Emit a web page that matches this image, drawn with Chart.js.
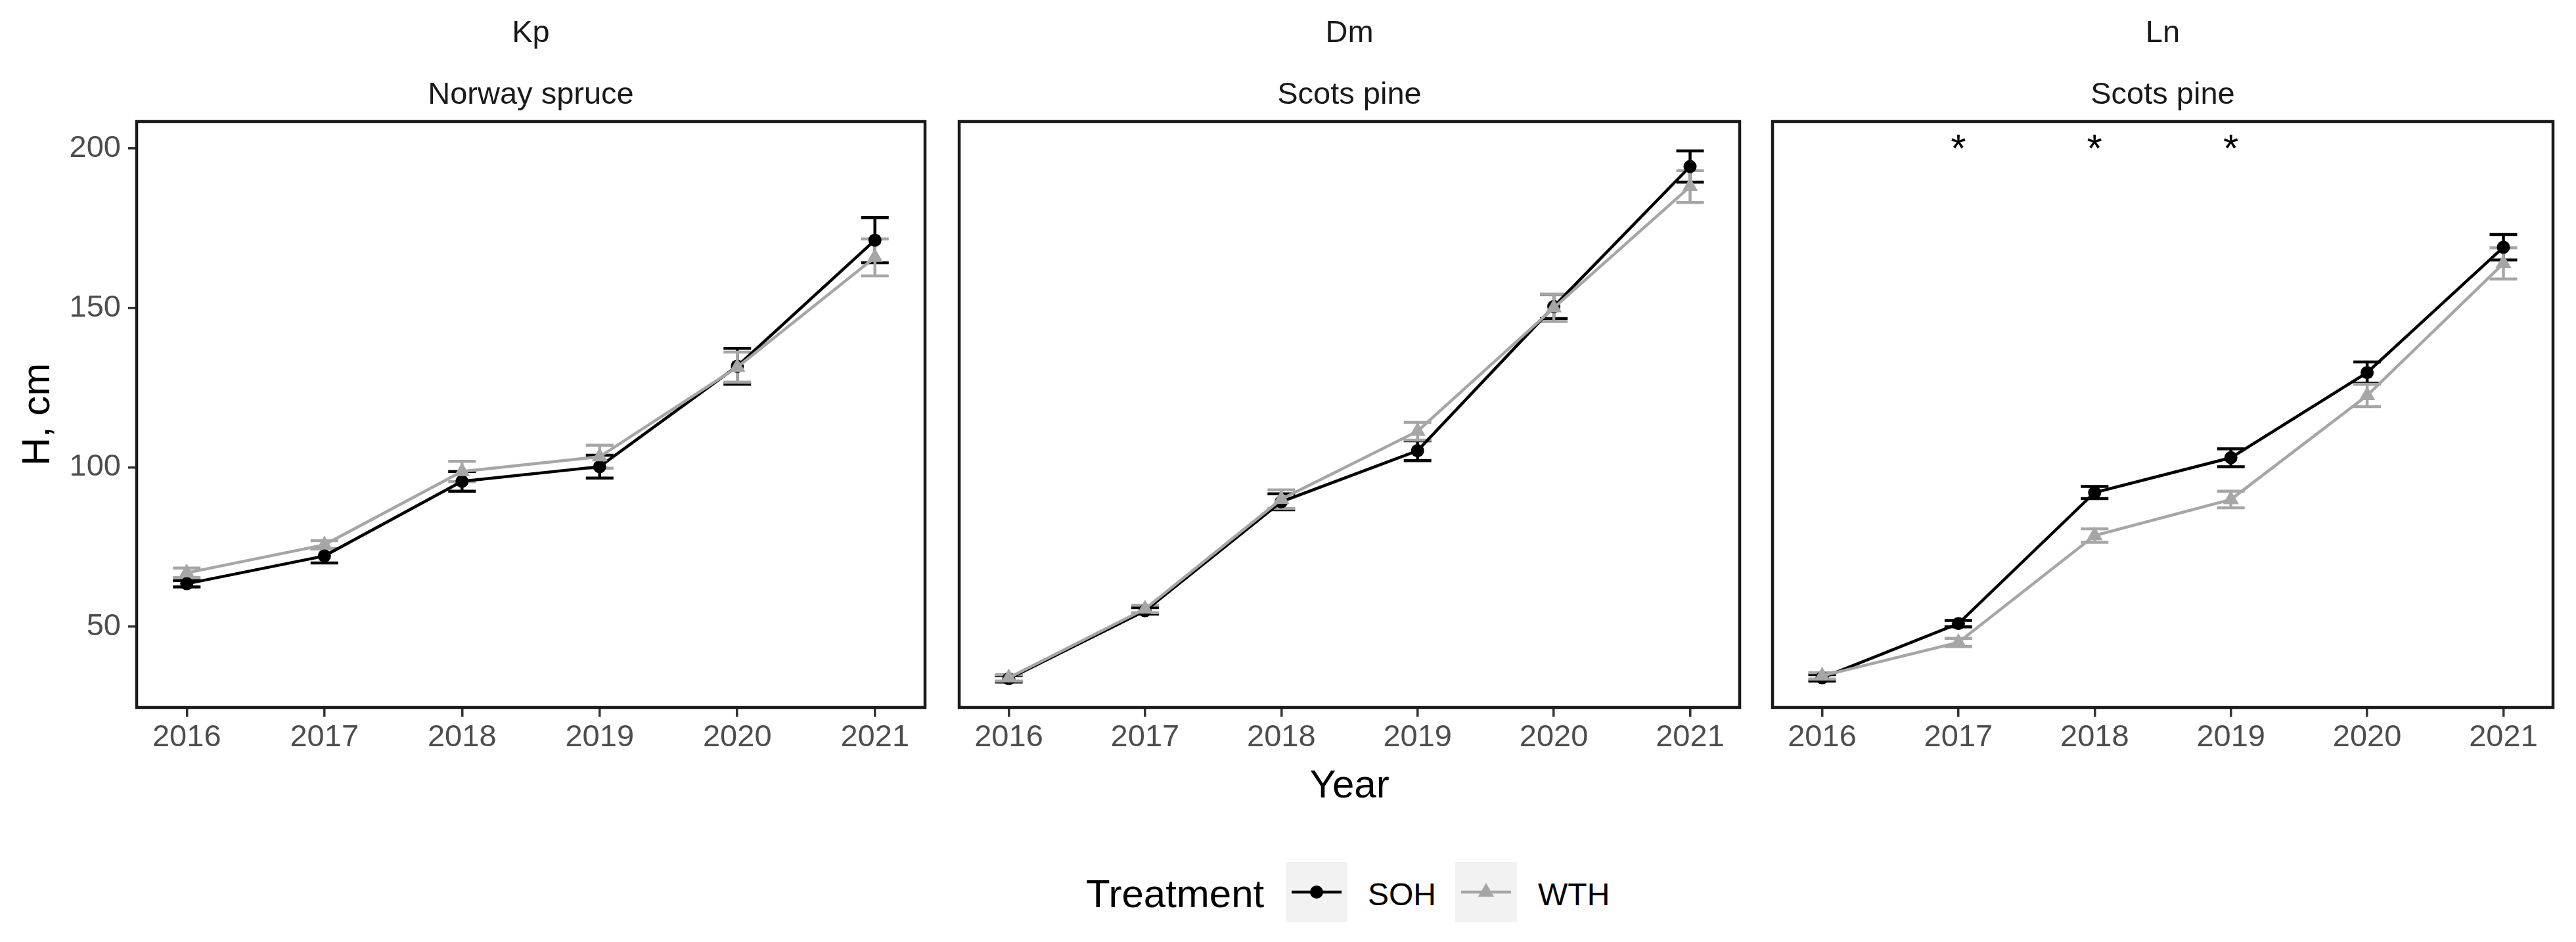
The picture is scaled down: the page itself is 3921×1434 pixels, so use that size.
<!DOCTYPE html>
<html>
<head>
<meta charset="utf-8">
<title>H, cm by year and treatment</title>
<script src="https://cdn.jsdelivr.net/npm/chart.js@4.4.1/dist/chart.umd.min.js"></script>
<style>
  body { margin: 0; background: #fff; }
  #page { position: relative; width: 3921px; height: 1434px; overflow: hidden; font-family: "Liberation Sans", Arial, sans-serif; }
  #page canvas { position: absolute; top: 0; }
  .lg { position: absolute; line-height: 1; white-space: nowrap; color: #000; }
  .key { position: absolute; top: 1312px; width: 94px; height: 92px; background: #f2f2f2; }
</style>
</head>
<body>
<div id="page">
  <canvas id="kp" width="1422" height="1237" style="left:0;width:1422px;height:1237px"></canvas>
  <canvas id="dm" width="1216" height="1237" style="left:1446px;width:1216px;height:1237px"></canvas>
  <canvas id="ln" width="1216" height="1237" style="left:2684px;width:1216px;height:1237px"></canvas>

  <div class="lg" style="left:1653px;top:1331px;font-size:60px">Treatment</div>
  <svg class="key" style="left:1957px" viewBox="0 0 94 92">
    <line x1="9" y1="46" x2="85" y2="46" stroke="#000" stroke-width="4.5"/>
    <circle cx="47" cy="46" r="10" fill="#000"/>
  </svg>
  <div class="lg" style="left:2082px;top:1338px;font-size:48px">SOH</div>
  <svg class="key" style="left:2215px" viewBox="0 0 94 92">
    <line x1="9" y1="46" x2="85" y2="46" stroke="#a6a6a6" stroke-width="4.5"/>
    <polygon points="47,32 59.1,53 34.9,53" fill="#a6a6a6"/>
  </svg>
  <div class="lg" style="left:2341px;top:1338px;font-size:48px">WTH</div>
</div>

<script>
// years on the x axis, y tick marks
const years = [2016, 2017, 2018, 2019, 2020, 2021];
const yTicks = [50, 100, 150, 200];

// Kp - Norway spruce (mean height and error)
const kpSOH = [63.5, 72.2, 95.6, 100.2, 131.7, 171.2];
const kpSOHse = [1.0, 2.2, 3.1, 3.6, 5.6, 7.1];
const kpWTH = [66.9, 75.7, 98.7, 103.3, 131.4, 165.8];
const kpWTHse = [1.5, 1.3, 3.2, 3.6, 4.7, 5.8];

// Dm - Scots pine
const dmSOH = [33.7, 55.0, 89.2, 105.2, 150.4, 194.3];
const dmSOHse = [1.0, 1.0, 2.5, 3.1, 3.8, 4.9];
const dmWTH = [34.0, 55.6, 90.0, 111.3, 150.0, 188.0];
const dmWTHse = [1.0, 1.2, 2.9, 2.8, 4.3, 5.0];

// Ln - Scots pine
const lnSOH = [34.0, 51.0, 92.1, 103.0, 129.7, 169.0];
const lnSOHse = [1.0, 1.0, 1.9, 2.8, 3.3, 4.0];
const lnWTH = [34.6, 45.1, 78.6, 89.9, 122.5, 163.9];
const lnWTHse = [1.0, 1.3, 2.1, 2.6, 3.5, 4.9];

// significant differences (asterisks)
const lnSig = [2017, 2018, 2019];
const sigLevel = 202;

const FONT = '"Liberation Sans", Arial, sans-serif';
const BLACK = '#000000';
const GREY = '#a6a6a6';

const errorBars = {
  id: 'errorBars',
  beforeDatasetsDraw(chart) {
    const ctx = chart.ctx, x = chart.scales.x, y = chart.scales.y;
    ctx.save();
    chart.data.datasets.forEach(function (ds) {
      ctx.strokeStyle = ds.borderColor;
      ctx.lineWidth = 4.5;
      ds.data.forEach(function (p, i) {
        const px = x.getPixelForValue(p.x);
        const hi = y.getPixelForValue(p.y + ds.se[i]);
        const lo = y.getPixelForValue(p.y - ds.se[i]);
        ctx.beginPath();
        ctx.moveTo(px, hi); ctx.lineTo(px, lo);
        ctx.moveTo(px - 21, hi); ctx.lineTo(px + 21, hi);
        ctx.moveTo(px - 21, lo); ctx.lineTo(px + 21, lo);
        ctx.stroke();
      });
    });
    ctx.restore();
  }
};

const frame = {
  id: 'frame',
  afterDraw(chart) {
    const a = chart.chartArea, ctx = chart.ctx;
    ctx.save();
    ctx.strokeStyle = '#1a1a1a';
    ctx.lineWidth = 4.5;
    ctx.strokeRect(a.left, a.top, a.right - a.left, a.bottom - a.top);
    ctx.restore();
  }
};

const stars = {
  id: 'stars',
  afterDatasetsDraw(chart, args, opts) {
    if (!opts || !opts.years) return;
    const ctx = chart.ctx, x = chart.scales.x, y = chart.scales.y;
    ctx.save();
    ctx.fillStyle = '#000';
    ctx.font = '60px ' + FONT;
    ctx.textAlign = 'center';
    ctx.textBaseline = 'middle';
    opts.years.forEach(function (yr) {
      ctx.fillText('*', x.getPixelForValue(yr), y.getPixelForValue(opts.level) + 13);
    });
    ctx.restore();
  }
};

function series(label, vals, se, color, style, radius, order) {
  return {
    label: label,
    data: years.map(function (yr, i) { return { x: yr, y: vals[i] }; }),
    se: se,
    borderColor: color,
    backgroundColor: color,
    borderWidth: 4.5,
    pointStyle: style,
    pointRadius: radius,
    pointBackgroundColor: color,
    pointBorderWidth: 0,
    tension: 0,
    order: order
  };
}

function panel(id, site, species, soh, sohSe, wth, wthSe, o) {
  const first = !!o.first, mid = !!o.mid;
  return new Chart(document.getElementById(id), {
    type: 'line',
    data: {
      datasets: [
        series('SOH', soh, sohSe, BLACK, 'circle', 10, 2),
        series('WTH', wth, wthSe, GREY, 'triangle', 14, 1)
      ]
    },
    plugins: [errorBars, frame, stars],
    options: {
      responsive: false,
      animation: false,
      layout: { padding: { left: first ? 0 : 4, right: 4, top: 0, bottom: 0 } },
      plugins: {
        legend: { display: false },
        tooltip: { enabled: false },
        title: {
          display: true, text: site, fullSize: false, color: '#1a1a1a',
          font: { size: 47, family: FONT, weight: 'normal' },
          padding: { top: 23, bottom: 18 }
        },
        subtitle: {
          display: true, text: species, fullSize: false, color: '#1a1a1a',
          font: { size: 47, family: FONT, weight: 'normal' },
          padding: { top: 19.5, bottom: 11.7 }
        },
        stars: o.stars || {}
      },
      scales: {
        x: {
          type: 'linear',
          min: 2015.636,
          max: 2021.364,
          afterBuildTicks: function (axis) { axis.ticks = years.map(function (v) { return { value: v }; }); },
          afterFit: function (axis) { axis.height = 160; },
          ticks: {
            color: '#4d4d4d', font: { size: 47, family: FONT }, padding: 4,
            maxRotation: 0, autoSkip: false,
            callback: function (v) { return String(v); }
          },
          grid: { drawOnChartArea: false, drawTicks: true, tickLength: 14, tickWidth: 3.5, tickColor: '#333333', lineWidth: 3.5, color: '#333333' },
          border: { display: false },
          title: {
            display: mid, text: 'Year', color: '#000',
            font: { size: 60, family: FONT }, padding: { top: 0, bottom: 4 }
          }
        },
        y: {
          display: first,
          min: 24.7,
          max: 208.4,
          afterBuildTicks: function (axis) { axis.ticks = yTicks.map(function (v) { return { value: v }; }); },
          afterFit: function (axis) { axis.width = first ? 208 : 0; },
          ticks: { color: '#4d4d4d', font: { size: 47, family: FONT }, padding: 11 },
          grid: { drawOnChartArea: false, drawTicks: true, tickLength: 13, tickWidth: 3.5, tickColor: '#333333', lineWidth: 3.5, color: '#333333' },
          border: { display: false },
          title: {
            display: first, text: 'H, cm', color: '#000',
            font: { size: 60, family: FONT }, padding: { top: 22, bottom: 0 }
          }
        }
      }
    }
  });
}

panel('kp', 'Kp', 'Norway spruce', kpSOH, kpSOHse, kpWTH, kpWTHse, { first: true });
panel('dm', 'Dm', 'Scots pine', dmSOH, dmSOHse, dmWTH, dmWTHse, { mid: true });
panel('ln', 'Ln', 'Scots pine', lnSOH, lnSOHse, lnWTH, lnWTHse, { stars: { years: lnSig, level: sigLevel } });
</script>
</body>
</html>
